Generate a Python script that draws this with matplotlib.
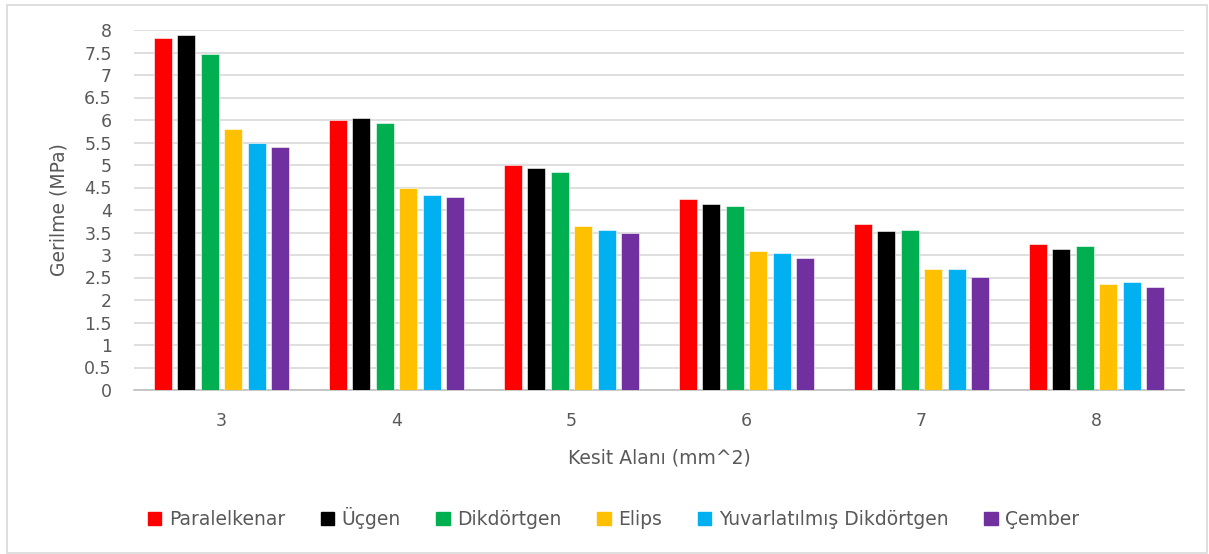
import matplotlib
matplotlib.use("Agg")
import matplotlib.pyplot as plt
import matplotlib.patches as mpatches
import numpy as np

plt.rcParams['font.family'] = ['DejaVu Sans']

# Cross-section areas (mm^2) and stress values (MPa) for each profile
areas = ["3", "4", "5", "6", "7", "8"]
paralelkenar = [7.82, 6.01, 5.01, 4.24, 3.68, 3.24]
ucgen = [7.90, 6.05, 4.93, 4.13, 3.53, 3.13]
dikdortgen = [7.46, 5.93, 4.84, 4.08, 3.56, 3.20]
elips = [5.81, 4.48, 3.64, 3.08, 2.68, 2.36]
yuvarlatilmis = [5.48, 4.33, 3.56, 3.04, 2.68, 2.39]
cember = [5.41, 4.28, 3.48, 2.93, 2.52, 2.28]

series_names = ["Paralelkenar", "Üçgen", "Dikdörtgen", "Elips",
                "Yuvarlatılmış Dikdörtgen", "Çember"]
series_values = [paralelkenar, ucgen, dikdortgen, elips, yuvarlatilmis, cember]
colors = ["#FF0000", "#000000", "#00B050", "#FFC000", "#00B0F0", "#7030A0"]

text_color = "#595959"
grid_color = "#D9D9D9"

fig = plt.figure(figsize=(12.09, 5.54), dpi=100)
ax = fig.add_axes([134 / 1209, 1 - 390 / 554, (1184 - 134) / 1209, (390 - 30) / 554])

x = np.arange(len(areas))
pitch = 0.134
width = 0.103
for i, (name, vals, c) in enumerate(zip(series_names, series_values, colors)):
    ax.bar(x + (i - 2.5) * pitch, vals, width=width, color=c, label=name,
           edgecolor="white", linewidth=0.4, zorder=3)

ax.set_xlim(-0.5, len(areas) - 0.5)
ax.set_ylim(0, 8)
ax.set_yticks(np.arange(0, 8.01, 0.5))
ax.set_yticklabels([f"{v:g}" for v in np.arange(0, 8.01, 0.5)])
ax.set_xticks(x)
ax.set_xticklabels(areas)

ax.grid(axis="y", color=grid_color, linewidth=1.2, zorder=0)
ax.set_axisbelow(True)
for side in ["top", "right", "left"]:
    ax.spines[side].set_visible(False)
ax.spines["bottom"].set_color("#BFBFBF")
ax.spines["bottom"].set_linewidth(1.2)
ax.tick_params(axis="both", length=0, labelsize=12.5, colors=text_color)
ax.tick_params(axis="y", pad=16)
ax.tick_params(axis="x", pad=16)

ax.set_xlabel("Kesit Alanı (mm^2)", fontsize=13.5, color=text_color, labelpad=13)
ax.set_ylabel("Gerilme (MPa)", fontsize=13.5, color=text_color, labelpad=11)

handles = [mpatches.Patch(color=c, label=n) for n, c in zip(series_names, colors)]
fig.legend(handles=handles, loc="center", bbox_to_anchor=(613.5 / 1209, 1 - 518 / 554),
           ncol=6, frameon=False, fontsize=13.5, labelcolor=text_color,
           handlelength=0.72, handleheight=0.72, handletextpad=0.4,
           columnspacing=1.9)

# light outer frame around the whole chart
fig.patches.append(mpatches.Rectangle((7 / 1209, 1 / 554), (1207 - 7) / 1209, (549 - 1) / 554,
                                      transform=fig.transFigure, fill=False,
                                      edgecolor=grid_color, linewidth=1.2))

fig.savefig("out.png", dpi=100, facecolor="white")
